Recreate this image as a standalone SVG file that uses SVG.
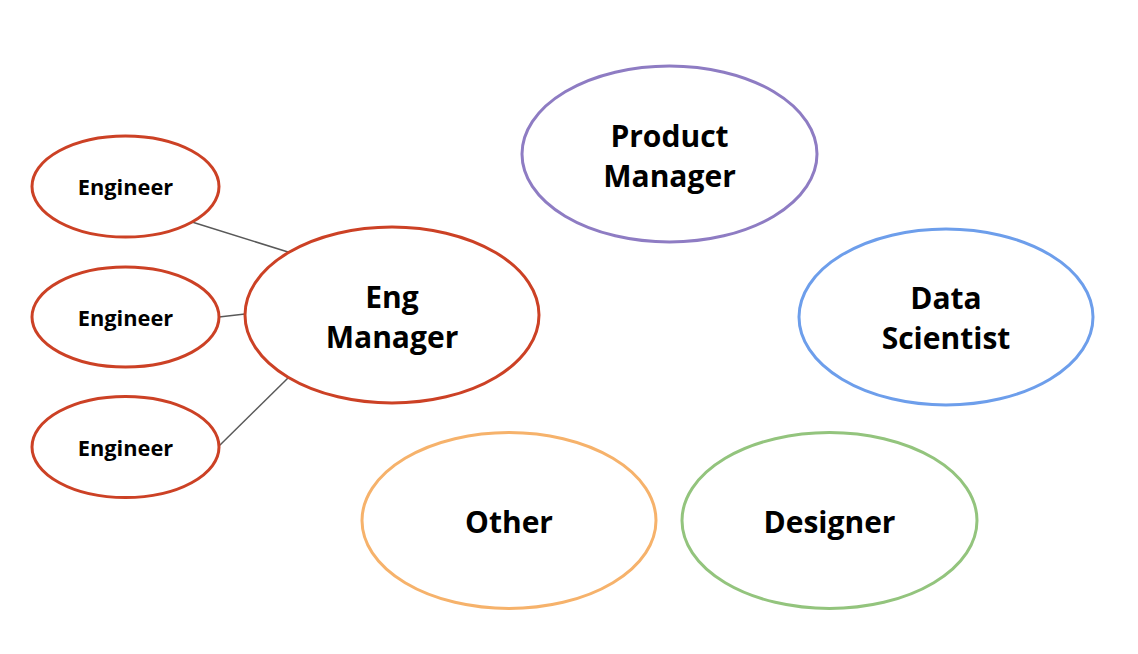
<svg xmlns="http://www.w3.org/2000/svg" width="1138" height="654" viewBox="0 0 1138 654">
<style>
.n{fill:#ffffff;stroke-width:3}
.red{stroke:#CC4125}
.t{font-family:"Open Sans","Noto Sans",sans-serif;font-weight:bold;fill:#000;text-anchor:middle}
.s{font-size:21.8px}
.b{font-size:30px}
.c{stroke:#595959;stroke-width:1.5;fill:none}
</style>
<rect width="1138" height="654" fill="#ffffff"/>
<g id="connectors">
<line class="c" x1="192" y1="222" x2="288" y2="252"/>
<line class="c" x1="219" y1="317" x2="245" y2="314"/>
<line class="c" x1="219" y1="446" x2="288" y2="378"/>
</g>
<g id="engineer1">
<ellipse class="n red" cx="125.5" cy="186.5" rx="93.5" ry="50.5"/>
<text class="t s" x="125.5" y="195">Engineer</text>
</g>
<g id="engineer2">
<ellipse class="n red" cx="125.5" cy="317" rx="93.5" ry="50"/>
<text class="t s" x="125.5" y="326">Engineer</text>
</g>
<g id="engineer3">
<ellipse class="n red" cx="125.5" cy="447" rx="93.5" ry="50.5"/>
<text class="t s" x="125.5" y="456">Engineer</text>
</g>
<g id="eng-manager">
<ellipse class="n red" cx="392" cy="315" rx="147" ry="88"/>
<text class="t b" x="392" y="308">Eng</text>
<text class="t b" x="392" y="348">Manager</text>
</g>
<g id="product-manager">
<ellipse class="n" stroke="#8E7CC3" cx="669.5" cy="154" rx="147.5" ry="88"/>
<text class="t b" x="669.5" y="147">Product</text>
<text class="t b" x="669.5" y="187">Manager</text>
</g>
<g id="data-scientist">
<ellipse class="n" stroke="#6D9EEB" cx="946" cy="317" rx="147" ry="88"/>
<text class="t b" x="946" y="309">Data</text>
<text class="t b" x="946" y="349">Scientist</text>
</g>
<g id="other">
<ellipse class="n" stroke="#F6B26B" cx="509" cy="520.5" rx="147" ry="88"/>
<text class="t b" x="509" y="533">Other</text>
</g>
<g id="designer">
<ellipse class="n" stroke="#93C47D" cx="829.5" cy="520.5" rx="147.5" ry="88"/>
<text class="t b" x="829.5" y="533">Designer</text>
</g>
</svg>
